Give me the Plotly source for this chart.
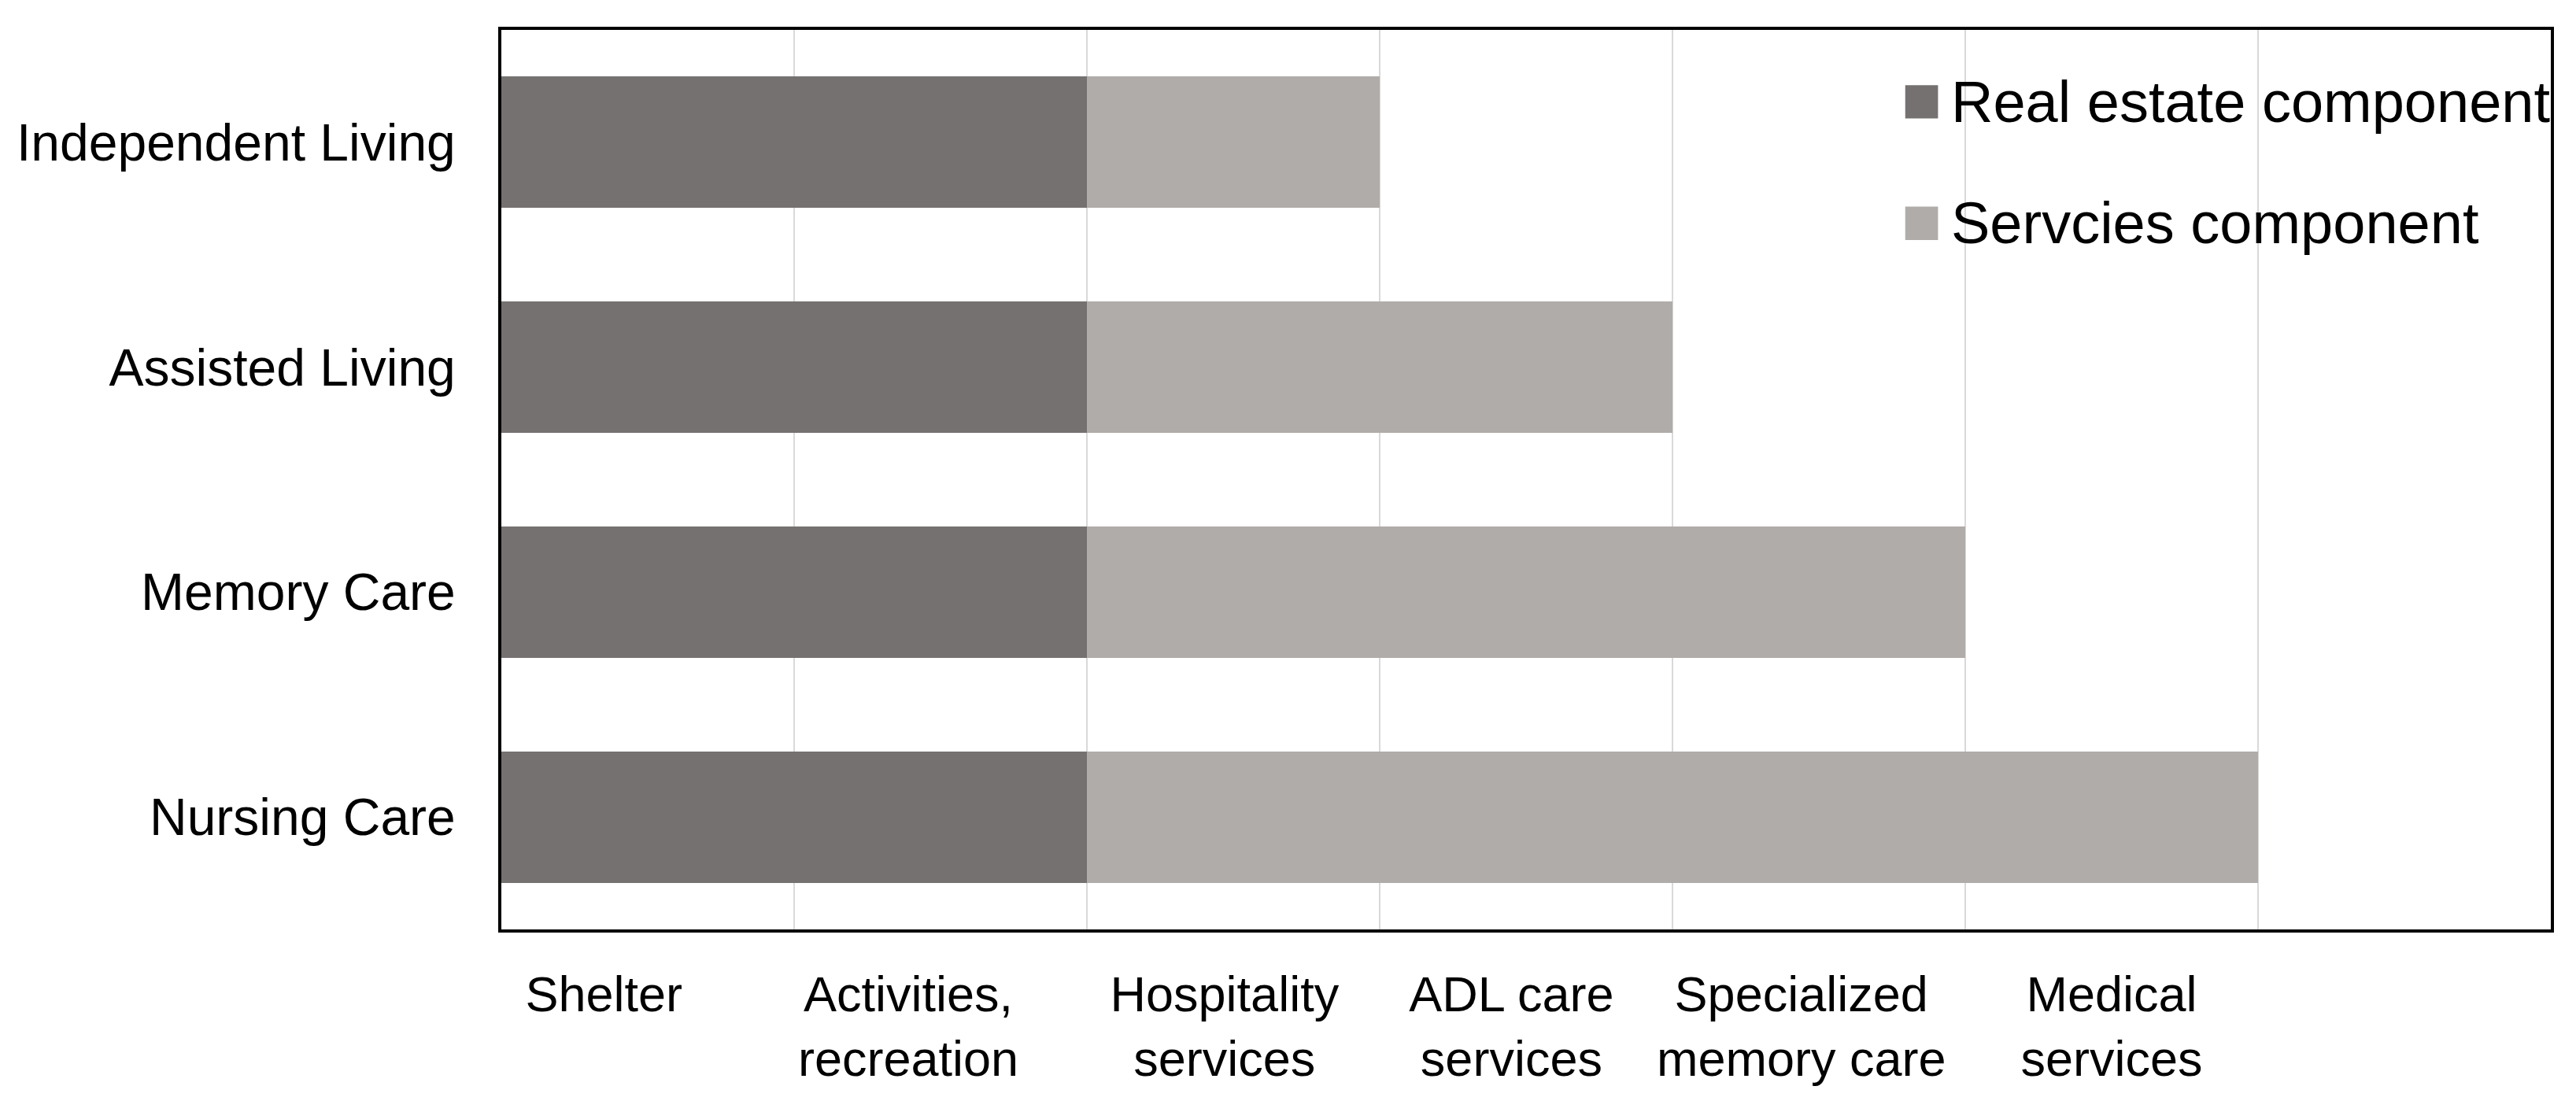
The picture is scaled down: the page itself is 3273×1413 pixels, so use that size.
import plotly.graph_objects as go

# ---- data ----
care_types = ["Independent Living", "Assisted Living", "Memory Care", "Nursing Care"]
real_estate = [2, 2, 2, 2]
services = [1, 2, 3, 4]
series_names = ["Real estate component", "Servcies component"]
series_colors = ["#767171", "#b0aca9"]
service_labels = ["Shelter", "Activities,<br>recreation", "Hospitality<br>services",
                  "ADL care<br>services", "Specialized<br>memory care", "Medical<br>services"]
label_pos = [0.35, 1.39, 2.47, 3.45, 4.44, 5.5]
grid_pos = [1, 2, 3, 4, 5, 6]

FONT = "Liberation Sans, Arial, sans-serif"

fig = go.Figure()
for name, vals, col in zip(series_names, [real_estate, services], series_colors):
    fig.add_trace(go.Bar(
        y=care_types, x=vals, name=name, orientation="h",
        marker=dict(color=col, line=dict(width=0)),
        showlegend=False,
    ))

# manual legend (large square swatches like the reference)
leg_y = [0.920, 0.785]
for name, col, yc in zip(series_names, series_colors, leg_y):
    fig.add_shape(type="rect", xref="paper", yref="paper",
                  x0=0.685, x1=0.701, y0=yc - 0.0185, y1=yc + 0.0185,
                  fillcolor=col, line=dict(width=0))
    fig.add_annotation(xref="paper", yref="paper", x=0.7066, y=yc,
                       xanchor="left", yanchor="middle", showarrow=False,
                       text=name, font=dict(size=74, color="black", family=FONT))

fig.update_layout(
    width=3257, height=1397,
    margin=dict(l=629, r=24, t=30, b=224, autoexpand=False),
    barmode="stack",
    bargap=0.415,
    plot_bgcolor="white",
    paper_bgcolor="white",
    font=dict(family=FONT, color="black", size=64),
    xaxis=dict(
        range=[0, 7],
        tickvals=label_pos,
        ticktext=service_labels,
        ticks="",
        showgrid=False,
        zeroline=False,
        automargin=False,
        showline=True, mirror=True, linecolor="black", linewidth=4,
        ticklabelstandoff=24,
        tickfont=dict(size=63),
        minor=dict(tickvals=grid_pos, showgrid=True, gridcolor="#d9d9d9",
                   gridwidth=2, ticks=""),
    ),
    yaxis=dict(
        autorange="reversed",
        ticks="",
        showgrid=False,
        automargin=False,
        showline=True, mirror=True, linecolor="black", linewidth=4,
        ticklabelstandoff=41,
        tickfont=dict(size=66),
    ),
)

fig.write_html("out.html")
